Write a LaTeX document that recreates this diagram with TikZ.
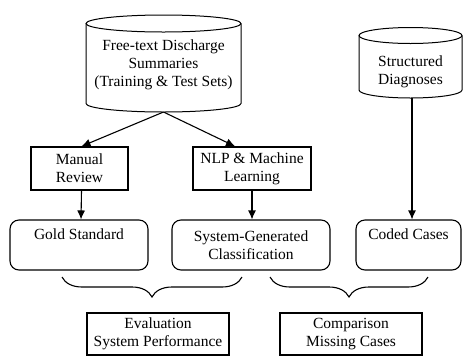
\documentclass[tikz,border=0pt]{standalone}
\usepackage{fontspec}
\setmainfont{Liberation Serif}
\usetikzlibrary{decorations.pathreplacing,arrows.meta}
\begin{document}
\begin{tikzpicture}
    [x=1pt,y=1pt,font=\fontsize{15.5}{18}\selectfont,
     flow/.style={-{Latex[length=9pt,width=8pt]},line width=1.1pt},
     task/.style={draw,line width=1.4pt,align=center,inner sep=2pt},
     result/.style={draw,rounded corners=9pt,line width=1.1pt,align=center,minimum height=50pt},
     hbrace/.style={decorate,decoration={brace,mirror,amplitude=20pt},line width=1.1pt}]
    \useasboundingbox (0,0) rectangle (463,-357);
    % data sources
    \draw [line width=1pt] (86,-23.5) -- (86,-103.5)
      arc [start angle=180,end angle=360,x radius=77.5,y radius=8.5] -- (241,-23.5);
    \draw [line width=1pt] (163.5,-23.5) ellipse [x radius=77.5,y radius=8.5];
    \node [align=center] (summaries) at (163.5,-65) {Free-text Discharge\\Summaries\\(Training \& Test Sets)};
    \coordinate (summaries bottom) at (163.5,-112);
    \draw [line width=1pt] (359,-35.5) -- (359,-90)
      arc [start angle=180,end angle=360,x radius=51.5,y radius=8] -- (462,-35.5);
    \draw [line width=1pt] (410.5,-35.5) ellipse [x radius=51.5,y radius=8];
    \node [align=center] (diagnoses) at (410.5,-72) {Structured\\Diagnoses};
    \coordinate (diagnoses bottom) at (412,-98);
    % processing
    \node [task,minimum width=97pt,minimum height=43pt] (review) at (79.5,-168.5) {Manual\\Review};
    \node [task,minimum width=118pt,minimum height=43pt] (nlp) at (252,-168.5) {NLP \& Machine\\Learning};
    % outputs
    \node [result,minimum width=138pt,text height=15pt,text depth=26pt,inner ysep=4pt] (gold) at (79,-245) {Gold Standard};
    \node [result,minimum width=158pt] (sysclass) at (251,-245) {System-Generated\\Classification};
    \node [result,minimum width=105pt,text height=15pt,text depth=26pt,inner ysep=4pt] (coded) at (408.5,-245) {Coded Cases};
    \draw [flow] (summaries bottom) -- ([xshift=2pt]review.north);
    \draw [flow] (summaries bottom) -- ([xshift=-17pt]nlp.north);
    \draw [flow] ([xshift=2pt]review.south) -- ([xshift=2pt]gold.north);
    \draw [flow] (nlp.south) -- (nlp.south |- sysclass.north);
    \draw [flow] (diagnoses bottom) -- (diagnoses bottom |- coded.north);
    % comparisons
    \draw [hbrace] (62,-277) -- (242,-277);
    \draw [hbrace] (270,-277) -- (428,-277);
    \node [task,minimum width=142pt,minimum height=42pt] (evaluation) at (158,-334) {Evaluation\\System Performance};
    \node [task,minimum width=142pt,minimum height=42pt] (comparison) at (351,-334) {Comparison\\Missing Cases};
\end{tikzpicture}
\end{document}
